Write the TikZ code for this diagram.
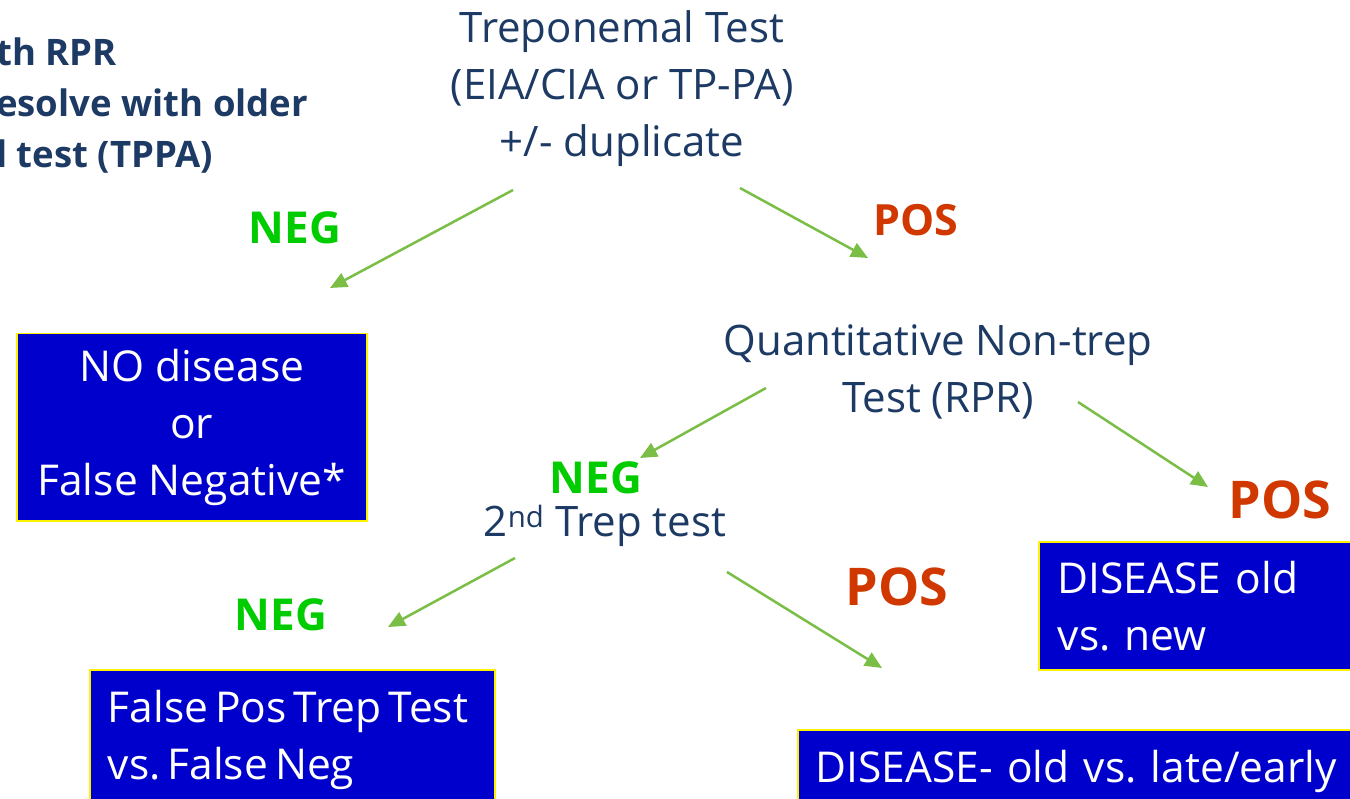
\documentclass[tikz,border=0pt]{standalone}
\usepackage{fontspec}
\setmainfont{Open Sans}
\usetikzlibrary{arrows.meta}
\definecolor{navy}{RGB}{28,58,100}
\definecolor{neggreen}{RGB}{0,204,0}
\definecolor{posred}{RGB}{208,56,0}
\definecolor{arrowgreen}{RGB}{122,190,70}
\definecolor{boxblue}{RGB}{0,0,204}
\frenchspacing
\begin{document}
\begin{tikzpicture}[x=1pt,y=-1pt,
 txt/.style={text=navy,font=\fontsize{42}{57}\selectfont,align=center,inner sep=0pt},
 note/.style={text=navy,font=\bfseries\fontsize{36.5}{51}\selectfont,align=left,inner sep=0pt},
 neglabel/.style={text=neggreen,font=\bfseries\fontsize{44}{50}\selectfont,inner sep=0pt},
 poslabel/.style={text=posred,font=\bfseries\fontsize{43}{50}\selectfont,inner sep=0pt},
 bigpos/.style={poslabel,font=\bfseries\fontsize{52}{56}\selectfont},
 flow/.style={draw=arrowgreen,line width=2.5pt,-{Triangle[length=17pt,width=15pt]}},
 res/.style={fill=boxblue,draw=yellow,line width=1.5pt,text=white,font=\fontsize{42.5}{57}\selectfont}
]
\useasboundingbox (0,0) rectangle (1350,799);
\clip (0,0) rectangle (1350,799);
\fill[white] (0,0) rectangle (1350,799);

\node[note,anchor=west] (note) at (-4,106) {th RPR\\esolve with older\\l test (TPPA)};

\node[txt] (trep) at (622,89) {Treponemal Test\\(EIA/CIA or TP-PA)\\+/- duplicate};
\node[txt] (quant) at (938,372) {Quantitative Non-trep\\Test (RPR)};
\node[txt] (second) at (605,526) {2\textsuperscript{nd} Trep test};

\node[neglabel] (neg1) at (295,228) {NEG};
\node[poslabel] (pos1) at (916,220) {POS};
\node[neglabel] (neg2) at (596,478) {NEG};
\node[bigpos] (pos2) at (1280,500) {POS};
\node[neglabel] (neg3) at (281,615) {NEG};
\node[bigpos] (pos3) at (897,587) {POS};

\node[res,anchor=north west,minimum width=350pt,minimum height=187pt,align=center,inner sep=0pt] (nodis) at (16,333) {NO disease\\or\\False Negative*};
\node[res,anchor=north west,text width=290pt,align=left,inner xsep=19pt,inner ysep=14pt,text height=38pt,text depth=62pt] (oldnew) at (1038,541) {DISEASE old\\vs. new};
\node[res,anchor=north west,text width=369pt,align=left,inner xsep=18pt,inner ysep=15pt,text height=38pt,text depth=130pt] (falsepos) at (89,669) {\spaceskip=7pt\relax\mbox{False Pos Trep Test}\\\mbox{vs. False Neg}};
\node[res,anchor=north west,text width=532pt,align=left,inner xsep=18pt,inner ysep=15pt,text height=38pt,text depth=80pt] (late) at (797,729) {\mbox{DISEASE- old vs. late/early}};

\coordinate (a1s) at (513,190); \coordinate (a1e) at (330,288);
\coordinate (a2s) at (740,188); \coordinate (a2e) at (868,258);
\coordinate (a3s) at (766,388); \coordinate (a3e) at (640,458);
\coordinate (a4s) at (1078,402); \coordinate (a4e) at (1208,487);
\coordinate (a5s) at (515,558); \coordinate (a5e) at (388,627);
\coordinate (a6s) at (727,572); \coordinate (a6e) at (882,668);
\draw[flow] (a1s) -- (a1e);
\draw[flow] (a2s) -- (a2e);
\draw[flow] (a3s) -- (a3e);
\draw[flow] (a4s) -- (a4e);
\draw[flow] (a5s) -- (a5e);
\draw[flow] (a6s) -- (a6e);
\end{tikzpicture}
\end{document}
